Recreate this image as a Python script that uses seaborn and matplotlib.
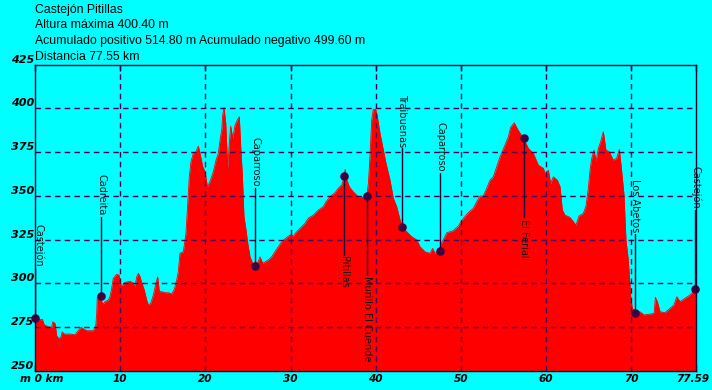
import matplotlib
matplotlib.use("Agg")
import matplotlib.pyplot as plt
import matplotlib.transforms as mtrans
import seaborn as sns
import pandas as pd

# ---------------- data ----------------
km = [0.00, 0.39, 0.70, 0.86, 1.09, 1.56, 1.96, 2.08, 2.35, 2.55, 2.82, 3.05, 3.20, 3.44, 4.11,
      4.70, 5.01, 5.40, 5.67, 6.07, 6.84, 7.13, 7.24, 7.31, 7.63, 7.83, 8.02, 8.22, 8.60, 8.80,
      9.00, 9.19, 9.59, 9.86, 10.09, 10.36, 10.56, 11.15, 11.47, 11.74, 11.94, 12.13, 12.33, 12.53,
      12.83, 13.11, 13.30, 13.58, 13.89, 14.20, 14.40, 14.59, 14.87, 15.26, 15.65, 16.05, 16.35,
      16.63, 16.82, 17.02, 17.41, 17.72, 17.88, 18.11, 18.31, 18.58, 18.90, 19.17, 19.37, 19.69,
      19.96, 20.23, 20.54, 20.93, 21.25, 21.52, 21.72, 21.92, 22.03, 22.19, 22.39, 22.62, 22.81,
      22.97, 23.21, 23.48, 23.75, 23.98, 24.15, 24.33, 24.53, 24.77, 24.97, 25.24, 25.55, 25.86,
      26.21, 26.41, 26.73, 27.00, 27.39, 27.78, 28.17, 28.56, 28.96, 29.55, 29.93, 30.32, 30.72,
      31.11, 31.69, 32.08, 32.67, 33.26, 33.84, 34.16, 34.63, 35.22, 35.60, 36.00, 36.19, 36.41,
      36.57, 36.89, 37.36, 37.95, 38.54, 38.94, 39.13, 39.32, 39.52, 39.71, 39.99, 40.18, 40.50,
      40.81, 41.20, 41.67, 42.06, 42.46, 42.85, 43.12, 43.63, 44.22, 44.81, 45.19, 45.78, 46.37,
      46.68, 46.95, 47.34, 47.74, 48.33, 49.10, 49.69, 50.28, 50.86, 51.45, 51.85, 52.24, 52.62,
      53.02, 53.41, 53.80, 54.20, 54.58, 55.17, 55.56, 55.82, 56.25, 56.70, 57.44, 57.91, 58.49,
      59.08, 59.67, 59.95, 60.25, 60.53, 60.84, 61.31, 61.63, 61.90, 62.21, 62.80, 63.19, 63.50,
      63.86, 64.36, 64.68, 64.95, 65.15, 65.35, 65.62, 65.85, 66.12, 66.40, 66.71, 67.02, 67.41,
      67.88, 68.28, 68.59, 68.87, 69.14, 69.37, 69.64, 69.93, 70.11, 70.47, 71.02, 71.49, 72.20,
      72.67, 72.82, 73.05, 73.37, 73.95, 74.54, 75.01, 75.33, 75.71, 76.30, 76.89, 77.53, 77.59]
elev = [281.0, 280.1, 279.1, 279.5, 276.3, 275.3, 274.9, 278.1, 277.2, 270.0, 268.4, 269.6, 272.3,
        271.1, 271.1, 270.7, 272.7, 274.9, 274.1, 273.0, 273.0, 275.7, 282.9, 292.1, 292.1, 289.6,
        288.2, 289.6, 290.5, 292.4, 297.2, 302.9, 305.2, 304.8, 299.1, 299.1, 300.6, 301.2, 300.4,
        298.1, 303.8, 305.8, 303.8, 300.4, 296.2, 290.5, 287.7, 288.6, 293.4, 300.1, 303.8, 295.3,
        295.3, 294.7, 294.7, 294.0, 296.6, 301.9, 306.7, 317.2, 318.1, 328.6, 341.9, 360.9, 369.5,
        374.3, 375.2, 378.4, 374.3, 366.6, 363.8, 355.2, 358.1, 363.8, 370.4, 374.3, 381.9, 387.6,
        396.1, 400.4, 391.4, 365.7, 380.0, 389.8, 382.8, 390.4, 393.3, 395.2, 378.0, 362.8, 338.1,
        330.5, 322.9, 315.2, 311.5, 311.5, 312.4, 315.2, 311.5, 312.2, 313.4, 315.2, 318.1, 321.0,
        323.8, 326.3, 327.6, 327.1, 329.5, 331.5, 334.3, 337.2, 339.0, 341.9, 343.8, 346.6, 349.5,
        351.8, 354.3, 356.2, 359.0, 365.1, 359.6, 355.2, 352.3, 349.5, 349.1, 349.5, 357.1, 372.3,
        393.3, 399.4, 399.4, 395.2, 385.7, 378.0, 368.6, 359.0, 348.6, 343.8, 336.2, 332.4, 329.5,
        326.7, 324.8, 321.0, 318.1, 317.2, 320.0, 317.2, 318.1, 323.1, 328.9, 330.1, 332.8, 337.2,
        340.4, 342.9, 346.6, 349.9, 349.9, 354.3, 359.0, 360.9, 366.6, 372.2, 379.0, 383.7, 389.0,
        391.7, 387.6, 381.9, 377.1, 374.3, 367.6, 365.7, 361.9, 364.7, 357.1, 360.9, 359.0, 355.2,
        341.9, 339.0, 337.7, 335.2, 333.3, 338.5, 340.0, 344.2, 354.3, 364.7, 371.4, 376.1, 369.5,
        377.1, 380.9, 386.6, 376.1, 375.2, 370.4, 371.4, 376.5, 363.8, 350.5, 324.8, 313.4, 292.4,
        285.8, 283.8, 283.8, 282.0, 282.5, 282.9, 292.1, 289.6, 283.8, 283.3, 285.8, 287.7, 292.4,
        289.6, 291.5, 293.4, 296.5, 297.0]

wp_names = ["Castejón", "Cadreita", "Caparroso", "Pitillas", "Murillo El Cuende",
            "Traibuenas", "Caparroso", "El Ferial", "Los Abetos", "Castejón"]
wp_km = [0.00, 7.75, 25.86, 36.31, 38.94, 43.12, 47.58, 57.44, 70.47, 77.51]
wp_elev = [280.3, 293.0, 309.9, 361.1, 349.7, 332.0, 318.3, 383.0, 283.1, 296.6]
wp_label_km = [0.40, 7.75, 25.86, 36.31, 38.94, 43.12, 47.58, 57.44, 70.47, 77.51]
wp_label_elev = [308.8, 337.9, 354.3, 316.2, 304.8, 377.1, 363.2, 337.7, 328.2, 341.9]
wp_label_side = ["above", "above", "above", "below", "below",
                 "above", "above", "below", "above", "above"]

title_lines = ["Castejón Pitillas",
               "Altura máxima 400.40 m",
               "Acumulado positivo 514.80 m Acumulado negativo 499.60 m",
               "Distancia 77.55 km"]

x_ticks = [0, 10, 20, 30, 40, 50, 60, 70, 77.59]
x_tick_labels = ["m 0 km", "10", "20", "30", "40", "50", "60", "70", "77.59"]
y_ticks = [250, 275, 300, 325, 350, 375, 400, 425]
y_tick_labels = ["250", "275", "300", "325", "350", "375", "400", "425"]
x_grid = [10, 20, 30, 40, 50, 60, 70]
y_grid = [275, 300, 325, 350, 375, 400]

# ---------------- style ----------------
BG = "#00FFFF"
RED = "#FF0000"
DARK = "#1A0033"
GRID = "#4A0050"
MARK = "#400040"

sns.set_style("white")
plt.rcParams["font.family"] = ["DejaVu Sans"]

fig = plt.figure(figsize=(7.12, 3.90), dpi=100, facecolor=BG)
ax = fig.add_axes([35 / 712, 19 / 390, 661 / 712, 306.5 / 390])
ax.set_facecolor(BG)

prof = pd.DataFrame({"km": km, "elev": elev})
wps = pd.DataFrame({"km": wp_km, "elev": wp_elev, "name": wp_names})

ax.fill_between(prof["km"], prof["elev"], 250, color=RED, linewidth=0, zorder=1)
sns.lineplot(data=prof, x="km", y="elev", color=RED, linewidth=0.6, ax=ax, zorder=1.2)

# grid (dashed, above fill)
for g in x_grid:
    ax.axvline(g, color=GRID, linestyle=(0, (4, 3)), linewidth=1.0, zorder=2)
for g in y_grid:
    ax.axhline(g, color=GRID, linestyle=(0, (4, 3)), linewidth=1.0, zorder=2)

# waypoint lines and labels
for name, k, e, lk, le, side in zip(wp_names, wp_km, wp_elev, wp_label_km,
                                     wp_label_elev, wp_label_side):
    ax.plot([k, k], [e, le], color=DARK, linewidth=1.0, zorder=3)
    va = "bottom" if side == "above" else "top"
    ax.text(lk, le + (0.8 if side == "above" else -0.8), name, rotation=270,
            ha="center", va=va, fontsize=7, color="#101010", zorder=4)

sns.scatterplot(data=wps, x="km", y="elev", color=MARK, s=38, edgecolor=MARK,
                linewidth=0, ax=ax, zorder=5, clip_on=False)

ax.set_xlim(0, 77.59)
ax.set_ylim(250, 425)
ax.set_xticks(x_ticks)
ax.set_xticklabels(x_tick_labels)
ax.set_yticks(y_ticks)
ax.set_yticklabels(y_tick_labels)
ax.set_xlabel("")
ax.set_ylabel("")

ax.tick_params(axis="x", direction="in", length=4, width=1, color=DARK,
               top=True, bottom=True, pad=2, labelsize=7.6)
ax.tick_params(axis="y", length=0, pad=0.5, labelsize=8)
for lab in ax.get_xticklabels() + ax.get_yticklabels():
    lab.set_fontweight("bold")
    lab.set_fontstyle("italic")
    lab.set_color("black")
for lab in ax.get_yticklabels():
    lab.set_verticalalignment("bottom")
xl = ax.get_xticklabels()
xl[0].set_transform(xl[0].get_transform() + mtrans.ScaledTranslation(7 / 100, 0, fig.dpi_scale_trans))
xl[-1].set_transform(xl[-1].get_transform() + mtrans.ScaledTranslation(-3.5 / 100, 0, fig.dpi_scale_trans))

for s in ax.spines.values():
    s.set_color(DARK)
    s.set_linewidth(1.0)
    s.set_visible(True)
    s.set_zorder(6)

ys = [10, 25.5, 41, 56.5]
for t, y in zip(title_lines, ys):
    fig.text(35 / 712, 1 - y / 390, t, ha="left", va="center", fontsize=8.85,
             family=["Liberation Sans", "DejaVu Sans"], color="black")

fig.savefig("out.png", dpi=100, facecolor=BG)
